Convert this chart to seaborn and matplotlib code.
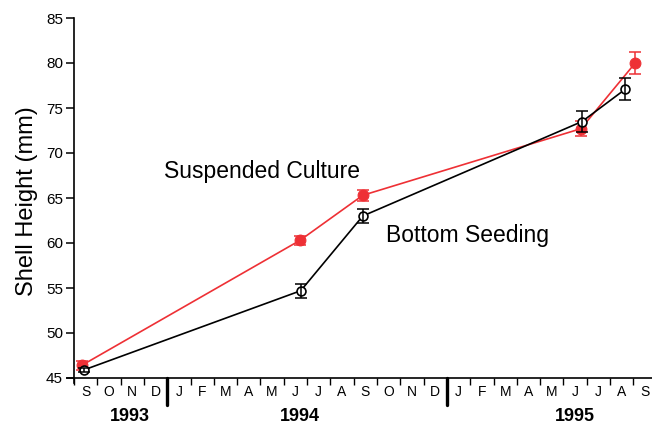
import matplotlib
matplotlib.use("Agg")
import matplotlib.pyplot as plt
import seaborn as sns
import pandas as pd

# ---- data (x = months since 1 Sep 1993) ----
susp_x = [0.33, 9.70, 12.39, 21.75, 24.08]
susp_y = [46.4, 60.3, 65.3, 72.7, 80.0]
susp_err = [0.5, 0.5, 0.6, 0.85, 1.2]

bott_x = [0.43, 9.73, 12.39, 21.80, 23.66]
bott_y = [45.9, 54.7, 63.0, 73.5, 77.1]
bott_err = [0.2, 0.8, 0.75, 1.2, 1.25]

month_labels = ["S", "O", "N", "D", "J", "F", "M", "A", "M", "J", "J", "A",
                "S", "O", "N", "D", "J", "F", "M", "A", "M", "J", "J", "A", "S"]
year_labels = ["1993", "1994", "1995"]
year_pos = [2.4, 9.7, 21.5]
year_breaks = [4, 16]
y_ticks = [45, 50, 55, 60, 65, 70, 75, 80, 85]

RED = "#ee3035"

sns.set_style("ticks")
plt.rcParams["font.family"] = ["Liberation Sans", "DejaVu Sans"]
plt.rcParams.update({"text.color": "black", "axes.labelcolor": "black",
                     "xtick.color": "black", "ytick.color": "black",
                     "axes.edgecolor": "black"})

df = pd.concat([
    pd.DataFrame({"x": susp_x, "y": susp_y, "err": susp_err, "g": "Suspended Culture"}),
    pd.DataFrame({"x": bott_x, "y": bott_y, "err": bott_err, "g": "Bottom Seeding"}),
])

fig = plt.figure(figsize=(6.52, 4.25), dpi=100)
ax = fig.add_axes([67 / 652, 1 - 383.4 / 425, 585 / 652, 365.4 / 425])

s = df[df.g == "Suspended Culture"]
b = df[df.g == "Bottom Seeding"]

sns.lineplot(data=s, x="x", y="y", ax=ax, color=RED, lw=1.2, marker="o",
             markersize=7.8, markerfacecolor=RED, markeredgecolor=RED,
             sort=False, zorder=3, legend=False)
ax.errorbar(s.x, s.y, yerr=s.err, fmt="none", ecolor=RED, elinewidth=1.1,
            capsize=4, capthick=1.1, zorder=3)

sns.lineplot(data=b, x="x", y="y", ax=ax, color="black", lw=1.2, marker="o",
             markersize=6.4, markerfacecolor="white", markeredgecolor="black",
             markeredgewidth=1.2, sort=False, zorder=4, legend=False)
ax.errorbar(b.x, b.y, yerr=b.err, fmt="none", ecolor="black", elinewidth=1.1,
            capsize=4, capthick=1.1, zorder=4)

ax.set_xlim(-0.3, 24.8)
ax.set_ylim(44.4, 85)
ax.spines["left"].set_position(("data", 0))
ax.spines["bottom"].set_position(("data", 45))
ax.spines["right"].set_visible(False)
ax.spines["top"].set_visible(False)
for sp in ("left", "bottom"):
    ax.spines[sp].set_linewidth(1.2)

ax.set_yticks(y_ticks)
ax.set_yticklabels([str(v) for v in y_ticks], fontsize=11)
ax.tick_params(axis="y", length=6, width=1.1, pad=2)

ax.set_xticks(list(range(0, 25)))
ax.set_xticklabels([])
ax.tick_params(axis="x", length=5, width=1.0)

for i, m in enumerate(month_labels):
    ax.text(i + 0.5, 43.4, m, ha="center", va="center", fontsize=10)
for yl, xp in zip(year_labels, year_pos):
    ax.text(xp, 40.75, yl, ha="center", va="center", fontsize=13, fontweight="bold")
for xb in year_breaks:
    ax.plot([xb, xb], [45, 42.0], color="black", lw=2.4, clip_on=False, zorder=5)

ax.set_xlabel("")
ax.set_ylabel("Shell Height (mm)", fontsize=17, labelpad=6)

ax.text(3.85, 67.9, "Suspended Culture", fontsize=16.5, ha="left", va="center")
ax.text(13.4, 60.8, "Bottom Seeding", fontsize=16.5, ha="left", va="center")

fig.savefig("out.png", dpi=100)
